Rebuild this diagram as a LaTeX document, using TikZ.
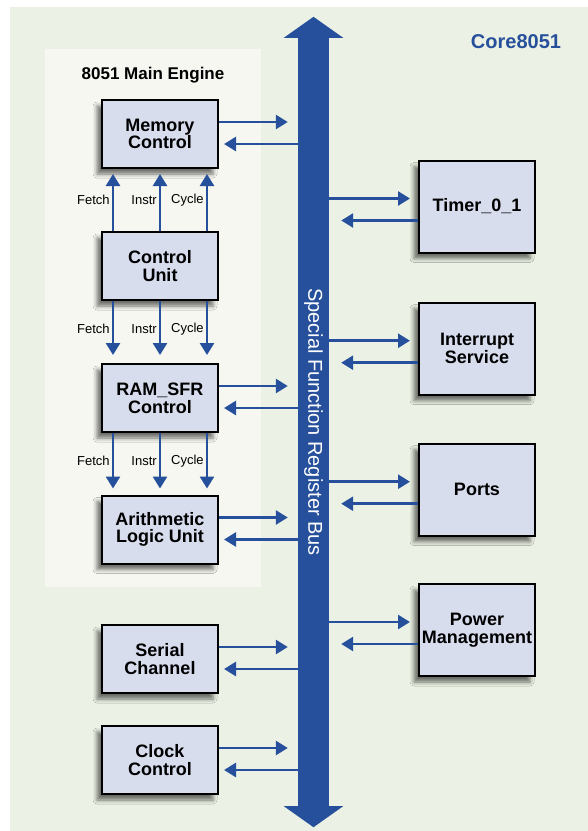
\documentclass[tikz,border=0pt]{standalone}
\usepackage{fontspec}
\setmainfont{Liberation Sans}
\usetikzlibrary{arrows.meta,shadows.blur}
\definecolor{bggreen}{RGB}{235,241,228}
\definecolor{panelgrey}{RGB}{245,247,240}
\definecolor{boxlilac}{RGB}{216,221,238}
\definecolor{busblue}{RGB}{39,80,156}

\begin{document}
\begin{tikzpicture}[x=1pt, y=-1pt,
		unit/.style={draw=black, line width=2pt, fill=boxlilac, minimum width=116pt, minimum height=68pt, inner sep=0pt, align=center, font=\fontsize{18}{17.7}\selectfont\bfseries, blur shadow={shadow xshift=-5pt, shadow yshift=-6pt, shadow blur radius=4pt, shadow opacity=55}},
		periph/.style={unit, minimum height=92pt},
		link/.style={draw=busblue, line width=2.6pt, -{Triangle[length=12pt,width=14pt]}},
		sig/.style={font=\fontsize{13}{15}\selectfont, inner sep=2pt}]
		%%%%% START %%%%%
		
		\useasboundingbox (0,0) rectangle (588,831);
		\fill[bggreen] (10,7) rectangle (588,831);
		\fill[panelgrey] (45,49) rectangle (261,587);
		
		\node[font=\fontsize{17}{20}\selectfont\bfseries] (engine) at (153,75) {8051 Main Engine};
		\node[font=\fontsize{20}{24}\selectfont\bfseries, text=busblue] (core) at (516,42) {Core8051};
		
		\node[fill=busblue, minimum width=31pt, minimum height=768pt, inner sep=0pt, text=white, font=\fontsize{20}{24}\selectfont] (bus) at (313.5,422) {\rotatebox{-90}{Special Function Register Bus}};
		\fill[busblue] ([xshift=-14pt]bus.north west) -- ([yshift=21pt]bus.north) -- ([xshift=14pt]bus.north east) -- cycle;
		\fill[busblue] ([xshift=-14pt]bus.south west) -- ([yshift=-21pt]bus.south) -- ([xshift=14pt]bus.south east) -- cycle;
		
		\node[unit] (mem) at (160,134) {Memory\\Control};
		\node[unit] (cpu) at (160,266) {Control\\Unit};
		\node[unit] (ramsfr) at (160,398) {RAM\_SFR\\Control};
		\node[unit] (alu) at (160,529.5) {Arithmetic\\Logic Unit};
		\node[unit] (serial) at (160,659) {Serial\\Channel};
		\node[unit] (clock) at (160,760) {Clock\\Control};
		
		\node[periph] (timer) at (477,206.5) {Timer\_0\_1};
		\node[periph] (irq) at (477,348.7) {Interrupt\\Service};
		\node[periph] (ports) at (477,489.7) {Ports};
		\node[periph] (power) at (477,630) {Power\\Management};
		
		\foreach \n in {mem,ramsfr,alu,serial,clock} {
			\draw[link, shorten >=10pt] ([yshift=12pt]\n.east) -- ([yshift=12pt]\n.east -| bus.west);
			\draw[link, shorten >=5pt] ([yshift=-10pt]\n.east -| bus.west) -- ([yshift=-10pt]\n.east);
		}
		\foreach \n in {timer,irq,ports,power} {
			\draw[link, shorten >=8pt] ([yshift=8pt]\n.west -| bus.east) -- ([yshift=8pt]\n.west);
			\draw[link, shorten >=12pt] ([yshift=-14pt]\n.west) -- ([yshift=-14pt]\n.west -| bus.east);
		}
		
		\foreach \dx/\signame in {-47/Fetch,0/Instr,47/Cycle} {
			\draw[link, shorten >=5pt] ([xshift=\dx pt]cpu.north) -- ([xshift=\dx pt]mem.south) node[sig, midway, left] {\signame};
			\draw[link, shorten >=8pt] ([xshift=\dx pt]cpu.south) -- ([xshift=\dx pt]ramsfr.north) node[sig, pos=0.45, left] {\signame};
			\draw[link, shorten >=6pt] ([xshift=\dx pt]ramsfr.south) -- ([xshift=\dx pt]alu.north) node[sig, pos=0.45, left] {\signame};
		}
		
		%%%%% END %%%%%
	\end{tikzpicture}
\end{document}
